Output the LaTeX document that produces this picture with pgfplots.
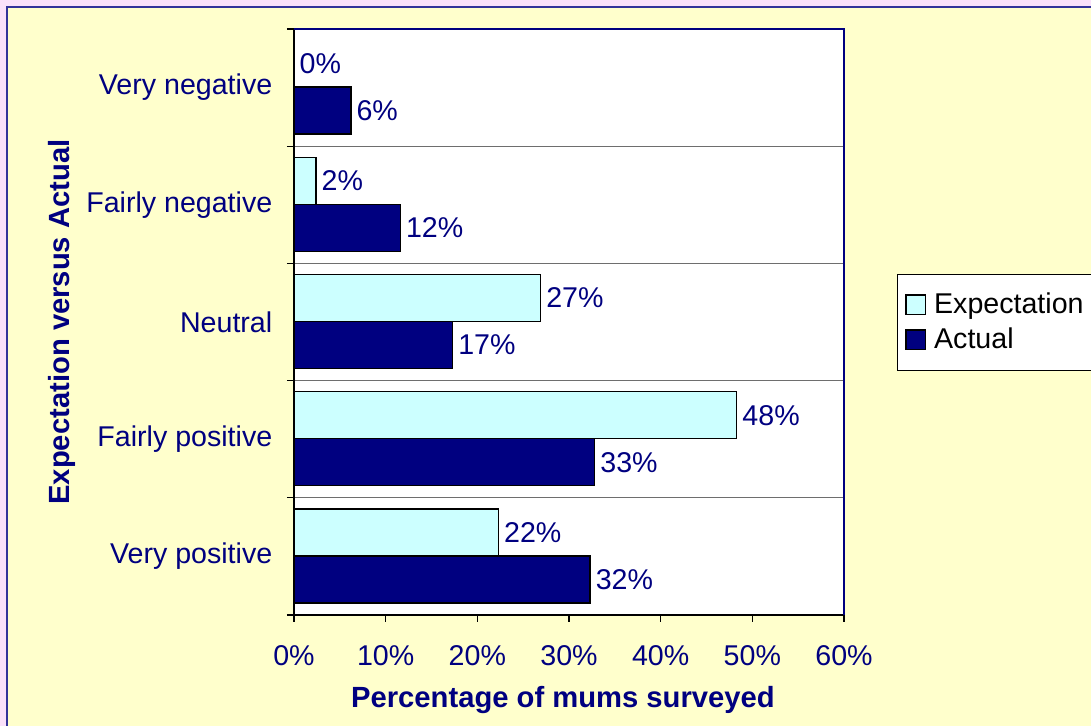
\documentclass[border=0pt]{standalone}
\usepackage{pgfplots}
\usepackage{pgfplotstable}
\pgfplotsset{compat=1.18}
\usepackage{fontspec}
\setmainfont{Liberation Sans}
\definecolor{navytext}{RGB}{0,0,128}
\definecolor{navybar}{RGB}{0,0,128}
\definecolor{bgyellow}{RGB}{255,255,204}
\definecolor{bgpink}{RGB}{250,225,250}
\definecolor{frameblue}{RGB}{51,51,153}
\definecolor{expfill}{RGB}{204,255,255}
\definecolor{gridgray}{RGB}{110,110,110}
\pgfplotstableread{
y x lab
0 22.3 22
1 48.3 48
2 26.9 27
3 2.4 2
4 0 0
}\expdata
\pgfplotstableread{
y x lab
0 32.3 32
1 32.8 33
2 17.3 17
3 11.6 12
4 6.2 6
}\actdata
\begin{document}
\fontsize{14}{16.8}\selectfont
\begin{tikzpicture}
\useasboundingbox (-147pt,-55.5pt) rectangle (398.5pt,307.5pt);
\fill[bgpink] (-147pt,-55.5pt) rectangle (398.5pt,307.5pt);
\fill[bgyellow] (-143.5pt,-60pt) rectangle (400pt,304pt);
\draw[frameblue, line width=1.2pt] (-143.5pt,-60pt) -- (-143.5pt,304pt) -- (405pt,304pt);
\begin{axis}[
  at={(0pt,0pt)}, anchor=south west,
  scale only axis, width=275pt, height=293pt,
  xbar, bar width=23.5pt,
  xmin=0, xmax=60, ymin=-0.5, ymax=4.5,
  axis background/.style={fill=white},
  axis line style={black, line width=0.7pt},
  tick align=outside,
  xtick pos=bottom, ytick pos=left,
  major tick length=3.5pt,
  tick style={black, line width=0.6pt},
  xtick={0,10,20,30,40,50,60},
  xticklabels={0\%,10\%,20\%,30\%,40\%,50\%,60\%},
  ytick={-0.5,0.5,1.5,2.5,3.5,4.5},
  yticklabels={},
  ymajorgrids,
  major grid style={gridgray, line width=0.6pt},
  extra y ticks={0,1,2,3,4},
  extra y tick labels={Very positive,Fairly positive,Neutral,Fairly negative,Very negative},
  extra y tick style={major tick length=0pt, grid=none, yticklabel style={xshift=-6pt}},
  ticklabel style={navytext, font=\fontsize{14.3}{17}\selectfont},
  xticklabel style={yshift=-7pt},
  xlabel={\bfseries Percentage of mums surveyed},
  ylabel={\bfseries Expectation versus Actual},
  xlabel style={at={(axis description cs:0.489,-0.145)}, anchor=center, navytext, font=\fontsize{14.6}{17}\selectfont},
  ylabel style={at={(axis description cs:-0.4218,0.5)}, anchor=center, rotate=0, navytext, font=\fontsize{14.6}{17}\selectfont},
  point meta=explicit symbolic,
  nodes near coords={\pgfplotspointmeta\%},
  nodes near coords style={navytext, anchor=west, inner sep=2.5pt, font=\fontsize{14.3}{17}\selectfont},
  legend style={at={(1.0964,0.5819)}, anchor=north west, draw=black, fill=white, text=black,
    font=\fontsize{14.3}{17}\selectfont, row sep=1pt, inner xsep=4pt, inner ysep=7pt},
  legend cell align=left,
  legend image code/.code={\path[draw=none,fill=none] (0pt,-4.9pt) rectangle (12pt,4.9pt); \draw[#1] (0pt,-4.9pt) rectangle (9.8pt,4.9pt);},
  clip=false,
  after end axis/.code={\draw[navybar, line width=1pt] (rel axis cs:0,1) -- (rel axis cs:1,1) -- (rel axis cs:1,0);},
]
\addplot[fill=expfill, draw=black, line width=0.7pt, bar shift=12pt] table[x=x, y=y, meta=lab]{\expdata};
\addplot[fill=navybar, draw=black, line width=0.7pt, bar shift=-11.5pt] table[x=x, y=y, meta=lab]{\actdata};
\legend{Expectation, Actual}
\end{axis}
\end{tikzpicture}
\end{document}
